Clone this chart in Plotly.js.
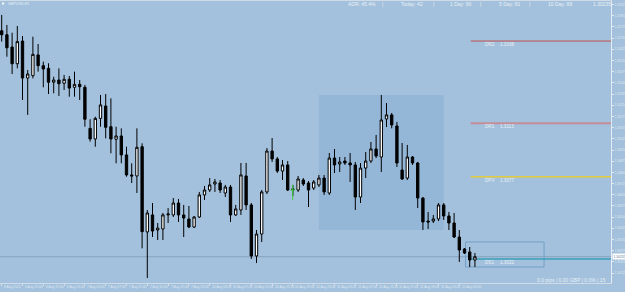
<!DOCTYPE html>
<html>
<head>
<meta charset="utf-8">
<script src="https://cdn.plot.ly/plotly-3.0.1.min.js"></script>
<style>
html,body{margin:0;padding:0;background:#a3c1dc;overflow:hidden;}
#chart{width:625px;height:292px;}
</style>
</head>
<body>
<div id="chart"></div>
<script>
// ---- data (GBPUSD, H1) ----
const openP = [1.31749,1.31722,1.31640,1.31528,1.31680,1.31432,1.31448,1.31587,1.31515,1.31497,
1.31404,1.31419,1.31397,1.31424,1.31370,1.31390,1.31370,1.31095,1.31024,1.31162,
1.31245,1.31106,1.31022,1.31044,1.30917,1.30783,1.30776,1.30972,1.30401,1.30515,
1.30414,1.30421,1.30515,1.30515,1.30595,1.30515,1.30488,1.30434,1.30501,1.30649,
1.30682,1.30722,1.30729,1.30662,1.30702,1.30515,1.30548,1.30776,1.30582,1.30240,
1.30387,1.30669,1.30943,1.30890,1.30809,1.30850,1.30682,1.30682,1.30749,1.30729,
1.30695,1.30716,1.30762,1.30662,1.30896,1.30856,1.30876,1.30863,1.30850,1.30635,
1.30829,1.30876,1.30957,1.30903,1.31158,1.31185,1.31111,1.30816,1.30762,1.30903,
1.30863,1.30628,1.30474,1.30474,1.30488,1.30582,1.30508,1.30461,1.30367,1.30287,
1.30267,1.30213];
const highP = [1.31855,1.31788,1.31736,1.31781,1.31714,1.31486,1.31709,1.31660,1.31542,1.31531,
1.31441,1.31497,1.31453,1.31446,1.31475,1.31419,1.31386,1.31156,1.31173,1.31319,
1.31325,1.31296,1.31106,1.31095,1.30972,1.30861,1.31095,1.30995,1.30548,1.30595,
1.30461,1.30528,1.30561,1.30628,1.30622,1.30582,1.30575,1.30508,1.30669,1.30709,
1.30762,1.30756,1.30749,1.30716,1.30716,1.30582,1.30863,1.30863,1.30595,1.30414,
1.30682,1.30963,1.31030,1.30903,1.30883,1.30876,1.30716,1.30776,1.30762,1.30742,
1.30749,1.30783,1.30783,1.30930,1.30957,1.30903,1.30903,1.30930,1.30870,1.30863,
1.30937,1.31004,1.31051,1.31319,1.31265,1.31198,1.31138,1.30997,1.30984,1.30910,
1.30870,1.30635,1.30535,1.30515,1.30595,1.30595,1.30535,1.30528,1.30414,1.30293,
1.30300,1.30260];
const lowP = [1.31676,1.31575,1.31459,1.31497,1.31285,1.31185,1.31430,1.31475,1.31370,1.31325,
1.31330,1.31312,1.31352,1.31307,1.31307,1.31285,1.31106,1.31006,1.30972,1.31106,
1.31028,1.30928,1.30861,1.30861,1.30771,1.30729,1.30662,1.30291,1.30092,1.30367,
1.30347,1.30347,1.30461,1.30501,1.30468,1.30367,1.30427,1.30427,1.30494,1.30615,
1.30669,1.30669,1.30662,1.30635,1.30468,1.30508,1.30515,1.30548,1.30220,1.30193,
1.30334,1.30655,1.30870,1.30796,1.30749,1.30675,1.30642,1.30669,1.30709,1.30568,
1.30682,1.30702,1.30649,1.30649,1.30796,1.30803,1.30850,1.30736,1.30548,1.30595,
1.30762,1.30863,1.30896,1.30803,1.31104,1.31095,1.30836,1.30749,1.30749,1.30850,
1.30561,1.30414,1.30421,1.30461,1.30474,1.30481,1.30414,1.30360,1.30200,1.30253,
1.30166,1.30166];
const closeP = [1.31722,1.31635,1.31528,1.31676,1.31432,1.31459,1.31591,1.31515,1.31493,1.31404,
1.31419,1.31394,1.31424,1.31365,1.31390,1.31374,1.31156,1.31024,1.31162,1.31252,
1.31102,1.31024,1.31044,1.30917,1.30783,1.30776,1.30968,1.30403,1.30528,1.30407,
1.30427,1.30515,1.30521,1.30595,1.30515,1.30494,1.30434,1.30501,1.30649,1.30682,
1.30716,1.30736,1.30682,1.30702,1.30515,1.30555,1.30783,1.30582,1.30240,1.30387,
1.30669,1.30943,1.30890,1.30809,1.30850,1.30682,1.30689,1.30756,1.30722,1.30682,
1.30736,1.30762,1.30669,1.30896,1.30850,1.30870,1.30863,1.30850,1.30635,1.30829,
1.30876,1.30957,1.30910,1.31151,1.31185,1.31118,1.30863,1.30756,1.30903,1.30863,
1.30628,1.30468,1.30468,1.30488,1.30582,1.30508,1.30461,1.30367,1.30280,1.30260,
1.30213,1.30235];

const timeLabels = ["6 Aug 2020","6 Aug 15:00","6 Aug 19:00","6 Aug 23:00","7 Aug 03:00","7 Aug 07:00",
"7 Aug 11:00","7 Aug 15:00","7 Aug 19:00","7 Aug 23:00","10 Aug 03:00","10 Aug 07:00","10 Aug 11:00",
"10 Aug 15:00","10 Aug 19:00","10 Aug 23:00","11 Aug 03:00","11 Aug 07:00","11 Aug 11:00","11 Aug 15:00",
"11 Aug 19:00","11 Aug 23:00","12 Aug 03:00"];
const timeLabelBar = [0,4,8,12,16,20,24,28,32,36,40,44,48,52,56,60,64,68,72,76,80,84,88];

const priceTicks = [1.30125,1.30200,1.30275,1.30350,1.30425,1.30500,1.30575,1.30650,1.30725,
1.30800,1.30875,1.30950,1.31025,1.31100,1.31175,1.31250,1.31325,1.31400,1.31475,1.31550,1.31625,
1.31700,1.31775,1.31850,1.31925];

const pivotNames  = ["DR2","DR1","DPV","DS1"];
const pivotValues = [1.3168,1.3113,1.3077,1.3022];
const pivotColors = ["#c0504d","#c48d98","#e2cc3e","#3b9fba"];
const pivotWidths = [1,2,1.5,1.5];

const statsLabels = ["ADR: 45.4%","Today: 42","1 Day: 90","5 Day: 81","10 Day: 88"];
const currentPrice = closeP[closeP.length-1];

// ---- layout constants ----
const barIndex = openP.map((_, i) => i);
const pivotStart = 90.2;
const sessionFrom = 61, sessionTo = 85;
const projBox = {x0:89.2, x1:104.3, y0:1.30166, y1:1.30334};

let sHigh = -Infinity, sLow = Infinity;
for (let i = sessionFrom; i < sessionTo; i++) { sHigh = Math.max(sHigh, highP[i]); sLow = Math.min(sLow, lowP[i]); }

const txt = '#e9f0f6';
const fam = 'Liberation Sans, Arial, sans-serif';

// plot area: y 1..283 px
const pyTop = 1, pyBot = 283;
const paperY = px => 1 - (px - pyTop) / (pyBot - pyTop);

const shapes = [
  {type:'rect', xref:'x', yref:'y', x0:sessionFrom, x1:sessionTo, y0:sLow, y1:sHigh, fillcolor:'#95b7d7', line:{width:0}, layer:'below'},
  {type:'rect', xref:'x', yref:'y', x0:projBox.x0, x1:projBox.x1, y0:projBox.y0, y1:projBox.y1, fillcolor:'rgba(0,0,0,0)', line:{color:'#739fc6', width:1}, layer:'below'},
  {type:'line', xref:'paper', yref:'y', x0:0, x1:1, y0:currentPrice, y1:currentPrice, line:{color:'#86a2bb', width:1}, layer:'below'},
  {type:'rect', xref:'paper', yref:'paper', x0:0.0033, x1:0.0068, y0:paperY(4.5), y1:paperY(2.5), fillcolor:'#f4f8fb', line:{width:0}},
  {type:'line', xref:'x', yref:'y', x0:55.96, x1:55.96, y0:1.30615, y1:1.30716, line:{color:'#3fcf3f', width:1}},
  {type:'line', xref:'x', yref:'y', x0:55.55, x1:56.4, y0:1.30682, y1:1.30682, line:{color:'#3fcf3f', width:1}}
];
pivotValues.forEach((v, k) => shapes.push({type:'line', xref:'x', yref:'y', x0:pivotStart, x1:300, y0:v, y1:v,
  line:{color:pivotColors[k], width:pivotWidths[k]}, layer:'below'}));

const annotations = [];
pivotValues.forEach((v, k) => {
  annotations.push({xref:'x', yref:'y', x:92.5, y:v, yshift:-3.2, xanchor:'left', yanchor:'middle', showarrow:false,
    text:pivotNames[k], font:{size:4.6, color:txt, family:fam}});
  annotations.push({xref:'x', yref:'y', x:95.4, y:v, yshift:-3.2, xanchor:'left', yanchor:'middle', showarrow:false,
    text:v.toFixed(4), font:{size:4.6, color:txt, family:fam}});
});
// time axis labels (left-aligned at their tick, as in the terminal)
timeLabels.forEach((s, k) => annotations.push({xref:'x', yref:'paper', x:timeLabelBar[k], y:paperY(287), xanchor:'left', yanchor:'middle',
  xshift:0.5, showarrow:false, text:s, font:{size:3.3, color:'#dfe8f1', family:fam}}));
const statsX = [0.5663, 0.653, 0.7332, 0.8134, 0.8936];
statsLabels.forEach((s, k) => annotations.push({xref:'paper', yref:'paper', x:statsX[k], y:paperY(4.3), xanchor:'left', yanchor:'middle',
  showarrow:false, text:s, font:{size:5, color:txt, family:fam}}));
[0.6268, 0.7087, 0.7872, 0.8658].forEach(px => annotations.push({xref:'paper', yref:'paper', x:px, y:paperY(4.3), xanchor:'center', yanchor:'middle',
  showarrow:false, text:'|', font:{size:5, color:txt, family:fam}}));
annotations.push({xref:'paper', yref:'paper', x:0.9673, y:paperY(4.3), xanchor:'left', yanchor:'middle', showarrow:false,
  text:currentPrice.toFixed(5), font:{size:5, color:txt, family:fam}});
annotations.push({xref:'paper', yref:'paper', x:0.0098, y:paperY(3.6), xanchor:'left', yanchor:'middle', showarrow:false,
  text:'GBPUSD,H1', font:{size:3.7, color:txt, family:fam}});
annotations.push({xref:'paper', yref:'paper', x:0.9951, y:paperY(280), xanchor:'right', yanchor:'middle', showarrow:false,
  text:'0.0 pips | 0.00 GBP | 0.0% | 15', font:{size:5, color:txt, family:fam}});
annotations.push({xref:'paper', yref:'y', x:1, y:currentPrice, xanchor:'left', yanchor:'middle', xshift:1, showarrow:false,
  text:currentPrice.toFixed(5), bgcolor:'#ffffff', borderpad:0.6, font:{size:3.3, color:'#5a7d9c', family:fam}});

const trace = {
  type:'candlestick', x:barIndex, open:openP, high:highP, low:lowP, close:closeP,
  increasing:{line:{color:'#000000', width:1}, fillcolor:'#ffffff'},
  decreasing:{line:{color:'#000000', width:1}, fillcolor:'#000000'},
  whiskerwidth:0, hoverinfo:'skip', showlegend:false
};

const layout = {
  width:625, height:292,
  margin:{l:0, r:14, t:pyTop, b:292 - pyBot, pad:0},
  paper_bgcolor:'#a3c1dc', plot_bgcolor:'#a3c1dc',
  showlegend:false, boxgap:0.36,
  font:{family:fam, color:txt},
  xaxis:{range:[-0.327,117.17], rangeslider:{visible:false}, showgrid:false, zeroline:false,
    tickmode:'array', tickvals:timeLabelBar, ticktext:timeLabels, showticklabels:false,
    ticks:'outside', ticklen:2, tickwidth:1, tickcolor:'#d3dfea',
    showline:true, linecolor:'#cfdbe7', linewidth:1, mirror:true, fixedrange:true},
  yaxis:{side:'right', range:[1.300589,1.319483], showgrid:false, zeroline:false,
    tickmode:'array', tickvals:priceTicks, ticktext:priceTicks.map(v => v.toFixed(5)),
    ticks:'outside', ticklen:2, tickwidth:1, tickcolor:'#dfe8f1',
    tickfont:{size:3.2, color:'#dfe8f1', family:fam},
    showline:true, linecolor:'#e4ecf4', linewidth:1, mirror:true, fixedrange:true},
  shapes:shapes, annotations:annotations
};

Plotly.newPlot('chart', [trace], layout, {staticPlot:true, displayModeBar:false});
</script>
</body>
</html>
